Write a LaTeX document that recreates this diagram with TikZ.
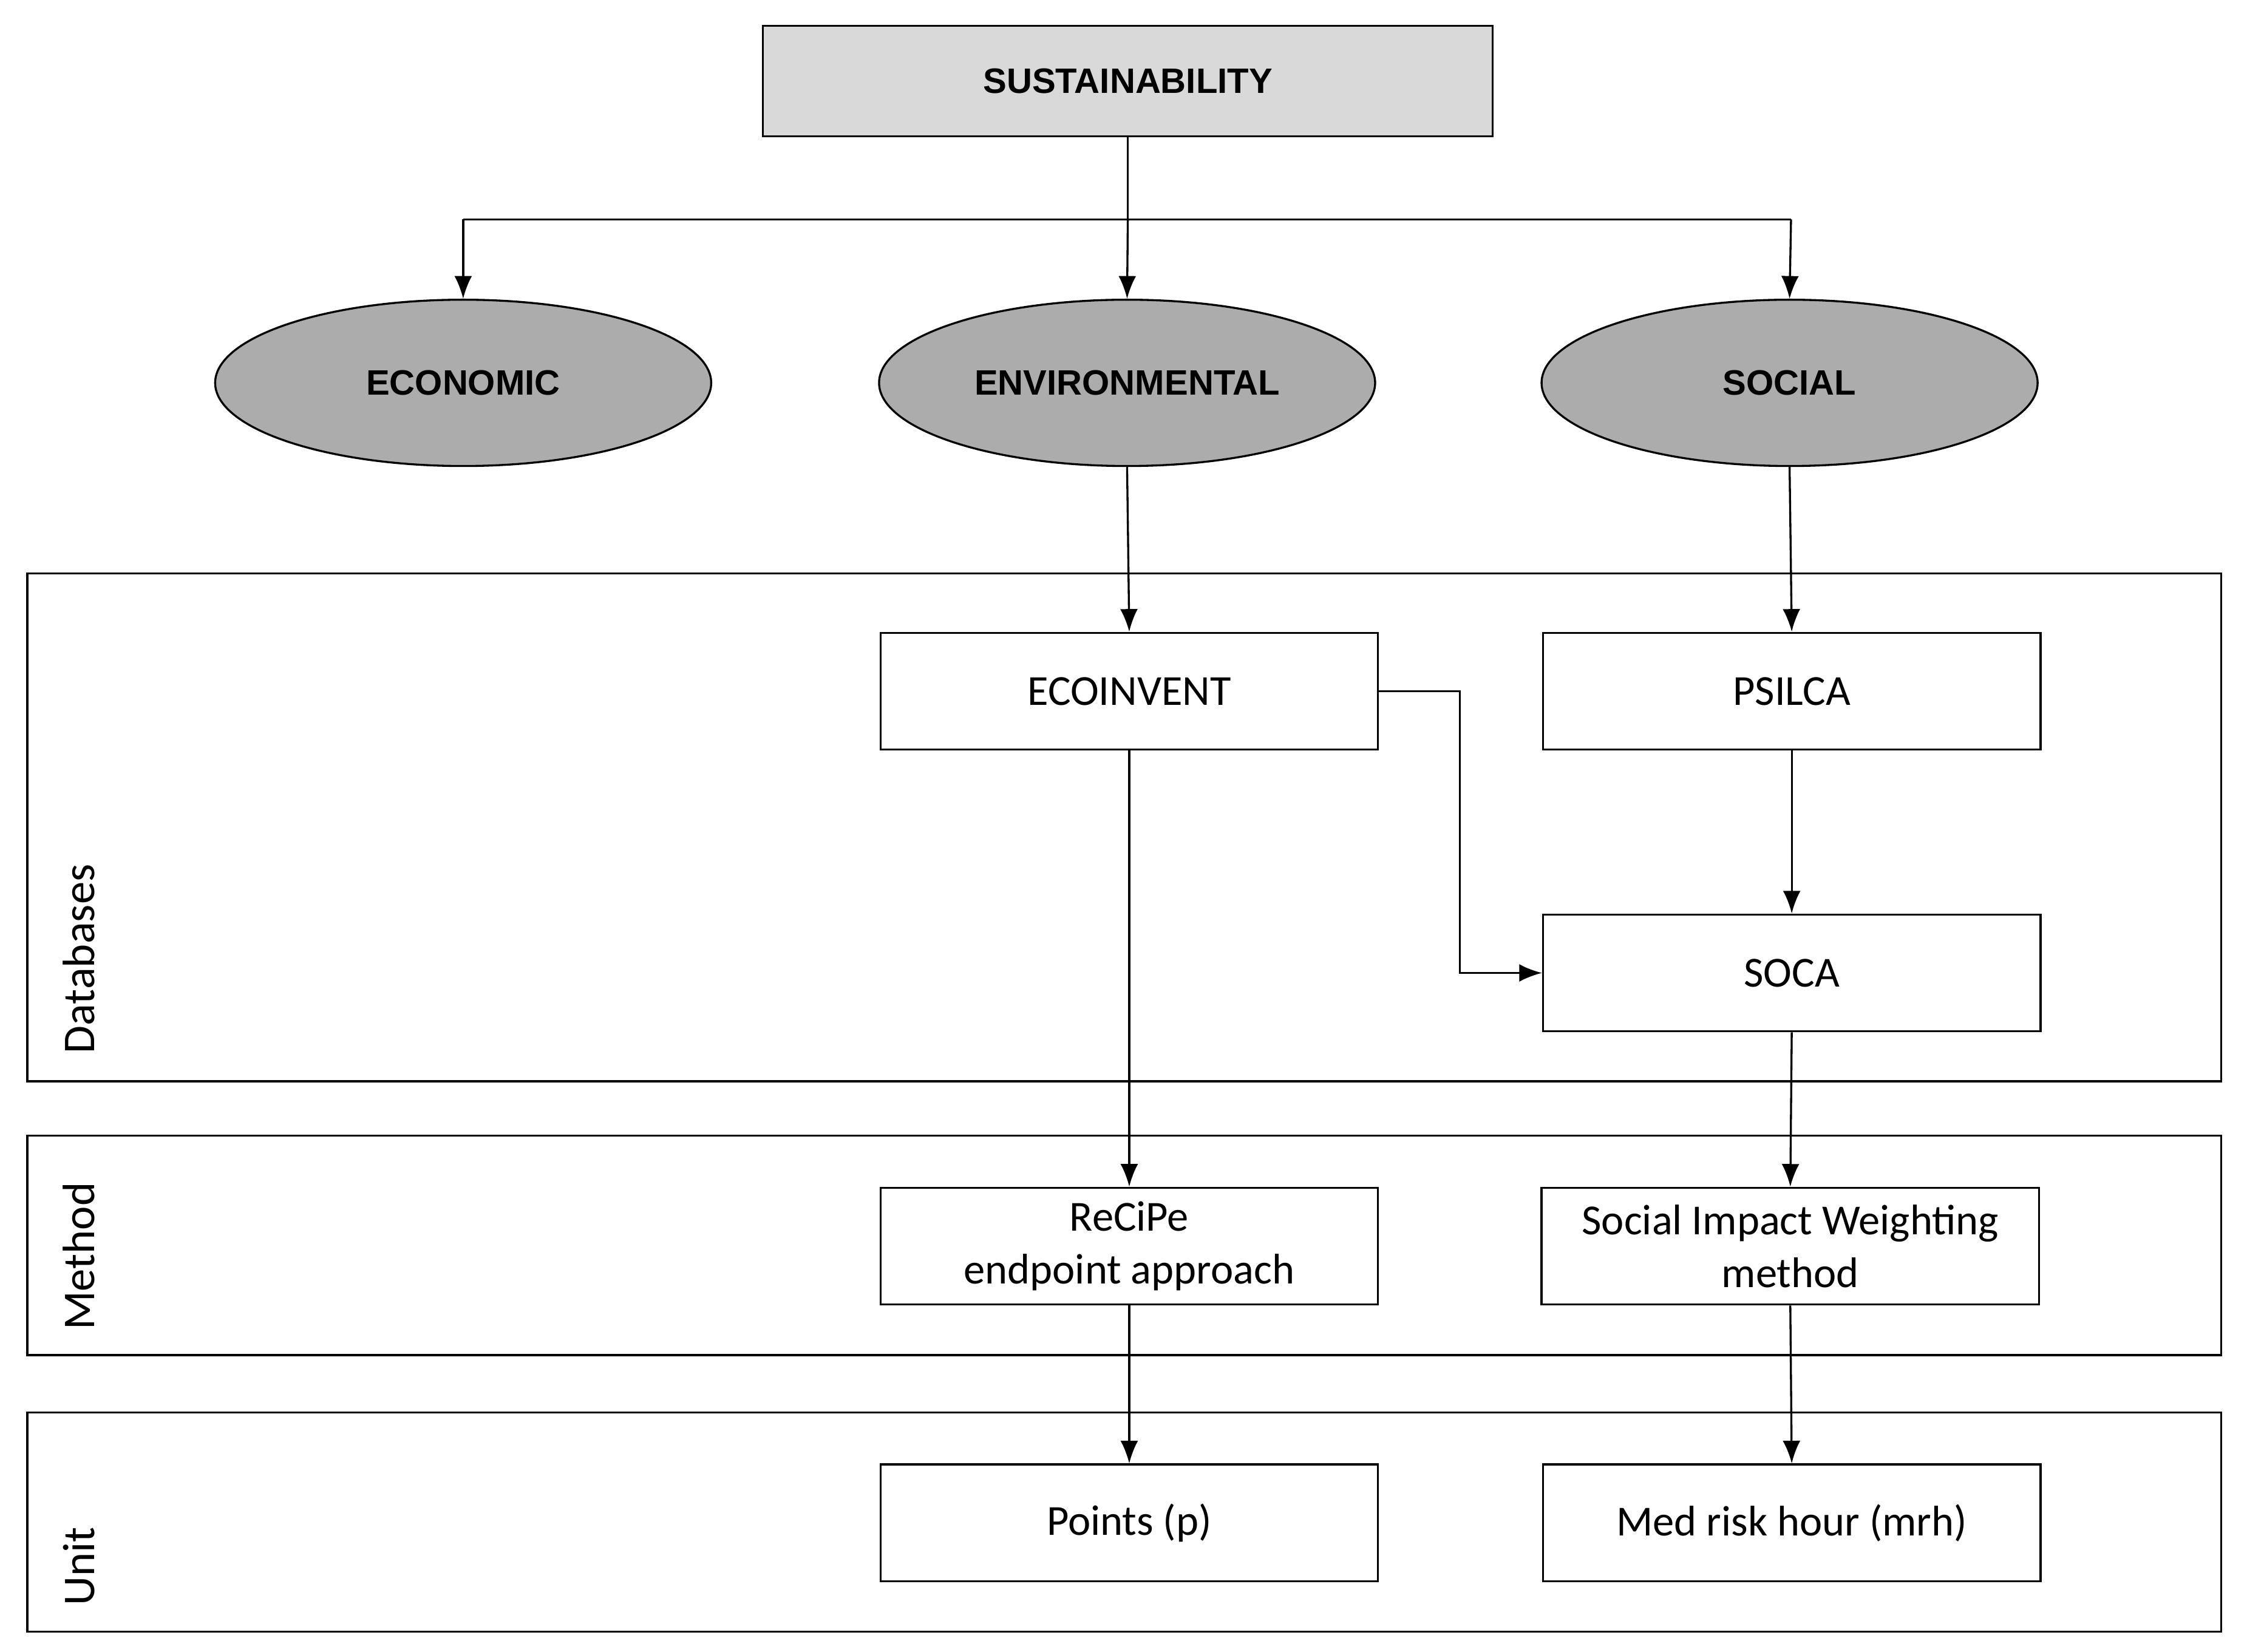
\documentclass[tikz,border=0pt]{standalone}
\usepackage{fontspec}
\setmainfont{Carlito}
\newfontfamily\hdr{Liberation Sans}
\usetikzlibrary{shapes.geometric,arrows.meta}
\begin{document}
\begin{tikzpicture}[x=0.02cm,y=-0.02cm,
  box/.style={draw,line width=0.8pt,minimum width=6.94cm,minimum height=1.63cm,align=center,font=\fontsize{17}{21}\selectfont,inner sep=0pt},
  ell/.style={ellipse,draw,line width=0.8pt,fill=gray!65,minimum width=6.92cm,minimum height=2.32cm,font=\hdr\bfseries\fontsize{14}{16}\selectfont},
  panel/.style={draw,line width=0.8pt},
  lab/.style={rotate=90,anchor=west,font=\fontsize{18}{20}\selectfont,inner sep=0pt},
  arr/.style={-{Latex[length=9pt,width=7pt]},line width=0.8pt}]
\useasboundingbox (0,0) rectangle (1567,1152);
\node[draw,line width=0.8pt,fill=gray!30,minimum width=10.18cm,minimum height=1.54cm,font=\hdr\bfseries\fontsize{14}{16}\selectfont] (sus) at (786.5,56.5) {SUSTAINABILITY};
\node[ell] (eco) at (323,267) {ECONOMIC};
\node[ell] (env) at (786,267) {ENVIRONMENTAL};
\node[ell] (soc) at (1248,267) {SOCIAL};
\draw[panel] (19,400) rectangle (1549,754);
\draw[panel] (19,792) rectangle (1549,945);
\draw[panel] (19,985) rectangle (1549,1138);
\node[lab] (ldb) at (55,735) {Databases};
\node[lab] (lme) at (55,928) {Method};
\node[lab] (lun) at (55,1120) {Unit};
\node[box] (ecoinv) at (787.5,482) {ECOINVENT};
\node[box] (psilca) at (1249.5,482) {PSILCA};
\node[box] (soca) at (1249.5,678.5) {SOCA};
\node[box] (recipe) at (787.5,869) {ReCiPe\\endpoint approach};
\node[box] (sim) at (1248.5,869) {Social Impact Weighting\\method};
\node[box] (pts) at (787.5,1062) {Points (p)};
\node[box] (mrh) at (1249.5,1062) {Med risk hour (mrh)};
\coordinate (hl) at (323,153);
\coordinate (hr) at (1249,153);
\draw[line width=0.8pt] (sus.south) -- (786.5,153);
\draw[line width=0.8pt] (hl) -- (hr);
\draw[arr] (hl) -- (eco.north);
\draw[arr] (786.5,153) -- (env.north);
\draw[arr] (hr) -- (soc.north);
\draw[arr] (env.south) -- (ecoinv.north);
\draw[arr] (soc.south) -- (psilca.north);
\draw[arr] (psilca.south) -- (soca.north);
\draw[arr] (ecoinv.east) -- (1018,482) |- (soca.west);
\draw[arr] (ecoinv.south) -- (recipe.north);
\draw[arr] (soca.south) -- (sim.north);
\draw[arr] (recipe.south) -- (pts.north);
\draw[arr] (sim.south) -- (mrh.north);
\end{tikzpicture}
\end{document}
